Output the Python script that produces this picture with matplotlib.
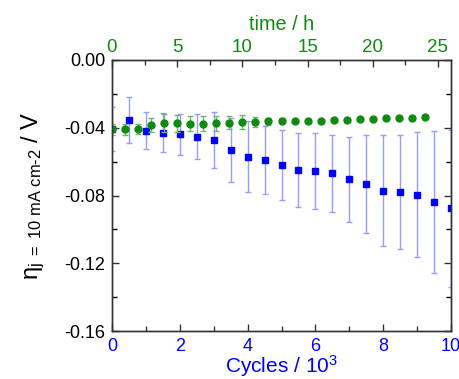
import matplotlib
matplotlib.use("Agg")
import matplotlib.pyplot as plt
from matplotlib.ticker import MultipleLocator
from matplotlib.transforms import ScaledTranslation

plt.rcParams['font.family'] = ['Liberation Sans', 'DejaVu Sans']
plt.rcParams['mathtext.fontset'] = 'custom'
plt.rcParams['mathtext.rm'] = 'Liberation Sans'
plt.rcParams['mathtext.it'] = 'Liberation Sans:italic'

# Blue series: overpotential vs cycles (x 10^3)
cycles = [0, 0.5, 1, 1.5, 2, 2.5, 3, 3.5, 4, 4.5, 5, 5.5, 6, 6.5, 7, 7.5, 8, 8.5, 9, 9.5, 10]
eta_cycles = [-0.041, -0.0355, -0.0417, -0.043, -0.0438, -0.0452, -0.0472, -0.053, -0.057,
              -0.059, -0.062, -0.065, -0.0655, -0.067, -0.0704, -0.0732, -0.0771, -0.078,
              -0.0795, -0.084, -0.0876]
err_cycles = [0.013, 0.0137, 0.011, 0.0115, 0.0122, 0.0135, 0.0165, 0.019, 0.021, 0.020,
              0.0205, 0.022, 0.0225, 0.0228, 0.025, 0.029, 0.033, 0.0335, 0.037, 0.042, 0.0463]

# Green series: overpotential vs time (h)
hours = list(range(0, 25))
eta_time = [-0.041, -0.041, -0.0405, -0.0383, -0.0373, -0.0373, -0.0377, -0.0377, -0.0373,
            -0.0369, -0.0365, -0.0365, -0.0361, -0.0359, -0.0359, -0.0359, -0.0359, -0.0357,
            -0.0355, -0.0351, -0.0349, -0.0341, -0.034, -0.034, -0.0337]
err_time = [0.003, 0.003, 0.003, 0.004, 0.0052, 0.005, 0.0044, 0.0044, 0.0045, 0.004, 0.004,
            0.003, 0.002, 0.0015, 0.001, 0.001, 0.001, 0.001, 0.001, 0.001, 0.001, 0.001,
            0.001, 0.001, 0.001]

blue = '#0000ff'
green = '#108a10'

fig = plt.figure(figsize=(4.59, 3.79), dpi=100)
ax = fig.add_axes([0.244, 0.1266, 0.7386, 0.7151])

ax.errorbar(cycles, eta_cycles, yerr=err_cycles, fmt='s', color=blue, markersize=4.2,
            ecolor='#9a9aff', elinewidth=1.0, capsize=2.5, capthick=1.0, zorder=3)
ax.set_xlim(0, 10)
ax.set_ylim(-0.16, 0.0)
ax.xaxis.set_major_locator(MultipleLocator(2))
ax.xaxis.set_minor_locator(MultipleLocator(1))
ax.yaxis.set_major_locator(MultipleLocator(0.04))
ax.yaxis.set_minor_locator(MultipleLocator(0.02))
ax.yaxis.set_major_formatter(matplotlib.ticker.FuncFormatter(lambda v, p: f"{v:.2f}" if abs(v) > 1e-9 else "0.00"))
ax.tick_params(axis='both', which='both', direction='in', top=False, right=True)
ax.tick_params(axis='both', which='major', length=5, width=1)
ax.tick_params(axis='both', which='minor', length=3.5, width=1)
ax.tick_params(axis='x', colors=blue, labelsize=13, pad=5)
ax.tick_params(axis='x', which='both', color='#333333')
ax.tick_params(axis='y', labelsize=13, pad=5, color='#333333')
ax.set_xlabel(r'Cycles / 10$^3$', color=blue, fontsize=15, labelpad=-1)
ax.set_ylabel(r'$\mathregular{\eta_{j\ =\ 10\ mA\ cm\text{-}2}}$ / V', fontsize=17, labelpad=12)

ax2 = ax.twiny()
ax2.errorbar(hours, eta_time, yerr=err_time, fmt='o', color=green, markersize=5,
             ecolor='#6fb86f', elinewidth=1.0, capsize=2.5, capthick=1.0, zorder=2)
ax2.set_xlim(0, 26)
ax2.xaxis.set_major_locator(MultipleLocator(5))
ax2.xaxis.set_minor_locator(MultipleLocator(2.5))
ax2.tick_params(axis='x', which='both', direction='in', color='#333333', width=1)
ax2.tick_params(axis='x', which='major', length=5, colors=green, labelsize=13.5, pad=3)
ax2.tick_params(axis='x', which='major', color='#333333')
ax2.tick_params(axis='x', which='minor', length=3.5)
ax2.set_xlabel('time / h', color=green, fontsize=14.3, labelpad=6)

for a in (ax, ax2):
    for s in a.spines.values():
        s.set_color('#333333')
        s.set_linewidth(1)

# nudge the last bottom tick label slightly left so it stays inside the canvas
fig.canvas.draw()
last = ax.xaxis.get_major_ticks()[-1].label1
last.set_transform(last.get_transform() + ScaledTranslation(-2.5 / 72, 0, fig.dpi_scale_trans))

fig.savefig('out.png', dpi=100)
